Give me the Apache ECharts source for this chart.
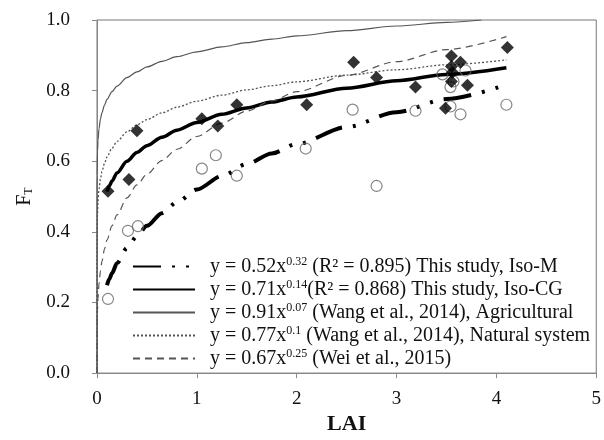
<!DOCTYPE html>
<html>
<head>
<meta charset="utf-8">
<script src="https://cdn.jsdelivr.net/npm/echarts@6/dist/echarts.min.js"></script>
<style>
  html, body { margin: 0; padding: 0; background: #fff; }
  #chart { width: 604px; height: 440px; }
</style>
</head>
<body>
<div id="chart"></div>
<script>
// 参考曲线的 LAI 采样点
const refLai = [0, 0.0002, 0.001, 0.005, 0.01, 0.02, 0.035, 0.05, 0.075, 0.1, 0.15, 0.2, 0.3, 0.4, 0.5, 0.65, 0.8, 1, 1.25, 1.5, 1.75, 2, 2.5, 3, 3.5, 4.1];
const agriLai = [0, 0.0002, 0.001, 0.005, 0.01, 0.02, 0.035, 0.05, 0.075, 0.1, 0.15, 0.2, 0.3, 0.4, 0.5, 0.65, 0.8, 1, 1.25, 1.5, 1.75, 2, 2.5, 3, 3.5, 3.85];
const agriFt = [0, 0.501, 0.561, 0.628, 0.659, 0.692, 0.720, 0.738, 0.759, 0.775, 0.797, 0.813, 0.837, 0.853, 0.867, 0.883, 0.896, 0.91, 0.924, 0.936, 0.946, 0.955, 0.970, 0.983, 0.993, 1.0];
const naturalFt = [0, 0.329, 0.386, 0.453, 0.486, 0.521, 0.551, 0.571, 0.594, 0.612, 0.637, 0.656, 0.683, 0.703, 0.718, 0.737, 0.753, 0.77, 0.787, 0.802, 0.814, 0.825, 0.844, 0.859, 0.873, 0.887];
const weiFt = [0, 0.080, 0.119, 0.178, 0.212, 0.252, 0.290, 0.317, 0.351, 0.377, 0.417, 0.448, 0.496, 0.533, 0.563, 0.602, 0.634, 0.67, 0.708, 0.742, 0.771, 0.797, 0.843, 0.882, 0.916, 0.953];

// 本研究拟合曲线
const isoLai = [0.1, 0.125, 0.15, 0.2, 0.3, 0.4, 0.5, 0.65, 0.8, 1, 1.25, 1.5, 1.75, 2, 2.5, 3, 3.5, 4.1];
const isoMFt = [0.249, 0.267, 0.283, 0.311, 0.354, 0.388, 0.417, 0.453, 0.484, 0.52, 0.558, 0.592, 0.622, 0.649, 0.697, 0.739, 0.776, 0.817];
const isoCgFt = [0.514, 0.531, 0.544, 0.567, 0.600, 0.625, 0.644, 0.668, 0.688, 0.71, 0.733, 0.751, 0.768, 0.782, 0.807, 0.828, 0.846, 0.865];

// 实测点：实心菱形 (Iso-CG)，空心圆 (Iso-M)
const cgLai = [0.11, 0.32, 0.40, 1.05, 1.21, 1.40, 2.10, 2.57, 2.80, 3.19, 3.55, 3.64, 3.55, 3.56, 3.55, 3.71, 3.49, 4.11];
const cgFt = [0.515, 0.548, 0.686, 0.72, 0.70, 0.76, 0.76, 0.88, 0.837, 0.81, 0.898, 0.88, 0.868, 0.852, 0.826, 0.815, 0.75, 0.922];
const mLai = [0.11, 0.31, 0.41, 1.05, 1.19, 1.40, 2.09, 2.56, 2.80, 3.19, 3.46, 3.54, 3.57, 3.69, 3.54, 3.64, 4.10];
const mFt = [0.21, 0.403, 0.416, 0.579, 0.617, 0.559, 0.636, 0.746, 0.53, 0.743, 0.846, 0.81, 0.826, 0.857, 0.755, 0.733, 0.76];

// 图例文字
const seriesNames = ['Iso-M', 'Iso-CG', 'Agricultural', 'Natural system', 'Wei 2015'];
const legendTexts = [
  'y = 0.52x{sup|0.32} (R² = 0.895) This study, Iso-M',
  'y = 0.71x{sup|0.14}(R² = 0.868) This study, Iso-CG',
  'y = 0.91x{sup|0.07} (Wang et al., 2014), Agricultural',
  'y = 0.77x{sup|0.1} (Wang et al., 2014), Natural system',
  'y = 0.67x{sup|0.25} (Wei et al., 2015)'
];

const FONT = 'Liberation Serif';
const pair = (xs, ys) => xs.map((x, i) => [x, ys[i]]);

const chart = echarts.init(document.getElementById('chart'), null, { renderer: 'canvas' });

const lineSeries = (name, xs, ys, lineStyle) => ({
  name,
  type: 'line',
  data: pair(xs, ys),
  showSymbol: false,
  symbol: 'none',
  smooth: 0.3,
  smoothMonotone: 'x',
  lineStyle,
  itemStyle: { color: lineStyle.color },
  z: 2
});

const option = {
  animation: false,
  backgroundColor: '#fff',
  grid: {
    left: 97,
    right: 4,
    top: 20,
    bottom: 57,
    show: true,
    borderColor: '#777',
    borderWidth: 1
  },
  legend: {
    data: seriesNames,
    orient: 'vertical',
    left: 132,
    top: 256,
    itemWidth: 62,
    itemHeight: 12,
    itemGap: 2,
    padding: 0,
    itemStyle: { opacity: 0 },
    formatter: (name) => '{gap|}' + legendTexts[seriesNames.indexOf(name)],
    textStyle: {
      fontFamily: FONT,
      fontSize: 20,
      color: '#111',
      lineHeight: 21,
      rich: {
        gap: { width: 10 },
        sup: { fontFamily: FONT, fontSize: 12, color: '#111', verticalAlign: 'top', lineHeight: 21, padding: [0, 0, 8, 0] }
      }
    }
  },
  xAxis: {
    type: 'value',
    min: 0,
    max: 5,
    interval: 1,
    name: 'LAI',
    nameLocation: 'middle',
    nameGap: 34,
    nameTextStyle: { fontFamily: FONT, fontSize: 22, fontWeight: 'bold', color: '#111' },
    axisLine: { show: true, onZero: false, lineStyle: { color: '#888' } },
    axisTick: { show: true, inside: false, length: 5, lineStyle: { color: '#888' } },
    axisLabel: { fontFamily: FONT, fontSize: 19, color: '#111', margin: 16 },
    splitLine: { show: false }
  },
  yAxis: {
    type: 'value',
    min: 0,
    max: 1,
    interval: 0.2,
    name: '{f|F}{t|T}',
    nameLocation: 'middle',
    nameRotate: 90,
    nameGap: 62,
    nameTextStyle: {
      fontFamily: FONT,
      color: '#111',
      rich: {
        f: { fontFamily: FONT, fontSize: 20, color: '#111' },
        t: { fontFamily: FONT, fontSize: 12, color: '#111', verticalAlign: 'bottom', padding: [6, 0, 0, 0] }
      }
    },
    axisLine: { show: true, lineStyle: { color: '#888' } },
    axisTick: { show: true, inside: false, length: 5, lineStyle: { color: '#888' } },
    axisLabel: {
      fontFamily: FONT,
      fontSize: 19,
      color: '#111',
      margin: 27,
      formatter: (v) => v.toFixed(1)
    },
    splitLine: { show: false }
  },
  series: [
    lineSeries('Iso-M', isoLai, isoMFt, { color: '#000', width: 4, type: [28, 11, 3, 11, 3, 11] }),
    lineSeries('Iso-CG', isoLai, isoCgFt, { color: '#000', width: 3.5, type: 'solid' }),
    lineSeries('Agricultural', agriLai, agriFt, { color: '#555', width: 1.2, type: 'solid' }),
    lineSeries('Natural system', refLai, naturalFt, { color: '#555', width: 1.3, type: [2, 2] }),
    lineSeries('Wei 2015', refLai, weiFt, { color: '#555', width: 1.2, type: [7, 5] }),
    {
      name: 'Iso-CG obs',
      type: 'scatter',
      data: pair(cgLai, cgFt),
      symbol: 'diamond',
      symbolSize: 13,
      itemStyle: { color: '#000' },
      z: 4
    },
    {
      name: 'Iso-M obs',
      type: 'scatter',
      data: pair(mLai, mFt),
      symbol: 'circle',
      symbolSize: 11,
      itemStyle: { color: 'rgba(255,255,255,0)', borderColor: '#666', borderWidth: 1.2 },
      z: 3
    }
  ]
};

chart.setOption(option);
</script>
</body>
</html>
